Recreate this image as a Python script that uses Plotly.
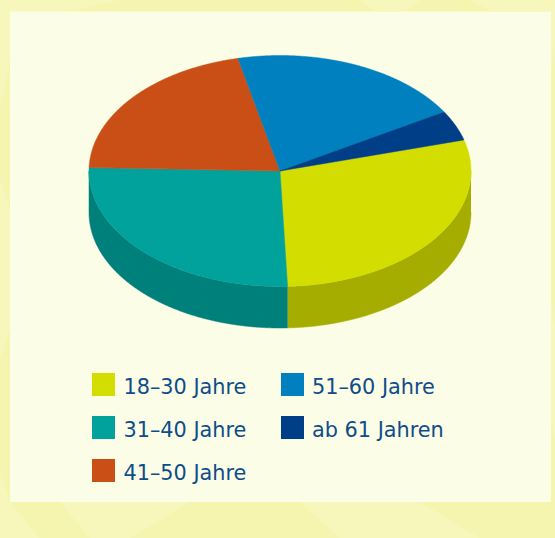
import numpy as np
import plotly.graph_objects as go

# Data
categories = ["18–30 Jahre", "31–40 Jahre", "41–50 Jahre", "51–60 Jahre", "ab 61 Jahren"]
shares = [28.7, 26.1, 21.0, 20.0, 4.2]
top_colors = ["#D3DE00", "#00A29B", "#C94F16", "#0080BF", "#003F87"]
side_colors = ["#A5AE00", "#00807A", "#9A3C10", "#006494", "#002F66"]

# Layout constants (pixel space)
W, H = 555, 538
CX, CY, RX, RY, DEPTH = 280.0, 171.0, 191.0, 115.5, 41.5
START_DEG = 74.4
legend_x = [103.5, 103.5, 103.5, 292.5, 292.5]
legend_y = [384.5, 427.5, 470.5, 384.5, 427.5]
label_x = [123.5, 123.5, 123.5, 312.0, 312.0]
TEXT = "#0F4C8A"
# Pale mottling of the outer paper
blotches = [
    "M0,0 L120,0 L70,11 L10,60 L0,110 Z",
    "M360,0 L420,0 L405,11 L375,11 Z",
    "M470,0 L555,0 L555,40 L551,70 L551,11 L490,11 Z",
    "M0,180 L10,210 L10,330 L0,360 Z",
    "M551,300 L555,330 L555,440 L551,420 Z",
    "M60,502 L190,502 L130,538 L90,538 Z",
    "M300,502 L420,502 L480,538 L340,538 Z",
    "M0,470 L10,502 L40,538 L0,538 Z",
]


def arc(a0, a1, dy=0.0):
    t = np.radians(np.linspace(a0, a1, max(int(abs(a1 - a0) * 4), 2)))
    return CX + RX * np.sin(t), CY - RY * np.cos(t) + dy


edges = START_DEG + np.concatenate([[0], np.cumsum(shares)]) * 3.6
fig = go.Figure()

# Walls: only the front half of the ellipse (90 to 270 degrees clockwise from top) is visible
for i in range(len(shares)):
    a0, a1 = max(edges[i], 90.0), min(edges[i + 1], 270.0)
    if a1 <= a0:
        continue
    xt, yt = arc(a0, a1)
    xb, yb = arc(a1, a0, DEPTH)
    fig.add_trace(go.Scatter(
        x=np.r_[xt, xb], y=np.r_[yt, yb], mode="lines", fill="toself",
        fillcolor=side_colors[i],
        line=dict(color=side_colors[i], width=0.5, simplify=False),
        hoverinfo="skip", showlegend=False))

# Top surface
for i in range(len(shares)):
    xa, ya = arc(edges[i], edges[i + 1])
    fig.add_trace(go.Scatter(
        x=np.r_[CX, xa, CX], y=np.r_[CY, ya, CY], mode="lines", fill="toself",
        fillcolor=top_colors[i],
        line=dict(color=top_colors[i], width=0.5, simplify=False),
        name=categories[i], hoverinfo="name", showlegend=False))

# Legend
for i, c in enumerate(categories):
    fig.add_trace(go.Scatter(
        x=[legend_x[i]], y=[legend_y[i]], mode="markers",
        marker=dict(symbol="square", size=23, color=top_colors[i], line=dict(width=0)),
        hoverinfo="skip", showlegend=False))
    fig.add_trace(go.Scatter(
        x=[label_x[i]], y=[legend_y[i] + 4], mode="text", text=[c],
        textposition="middle right",
        textfont=dict(family="DejaVu Sans", size=20.8, color=TEXT),
        hoverinfo="skip", showlegend=False))

shapes = [dict(type="path", path=p, layer="below", line=dict(width=0),
               fillcolor="rgba(252,252,215,0.3)") for p in blotches]
shapes.append(dict(type="rect", x0=10, x1=551, y0=11.5, y1=502, layer="below",
                   line=dict(width=0), fillcolor="#FBFDE6"))

fig.update_layout(
    width=W, height=H, autosize=False,
    margin=dict(l=0, r=0, t=0, b=0),
    paper_bgcolor="#F5F5B0", plot_bgcolor="#F5F5B0",
    xaxis=dict(range=[0, W], visible=False, fixedrange=True),
    yaxis=dict(range=[H, 0], visible=False, fixedrange=True),
    shapes=shapes,
)
fig.write_html("out.html", config={"displayModeBar": False},
               post_script="document.body.style.margin='0';document.body.style.overflow='hidden';")
